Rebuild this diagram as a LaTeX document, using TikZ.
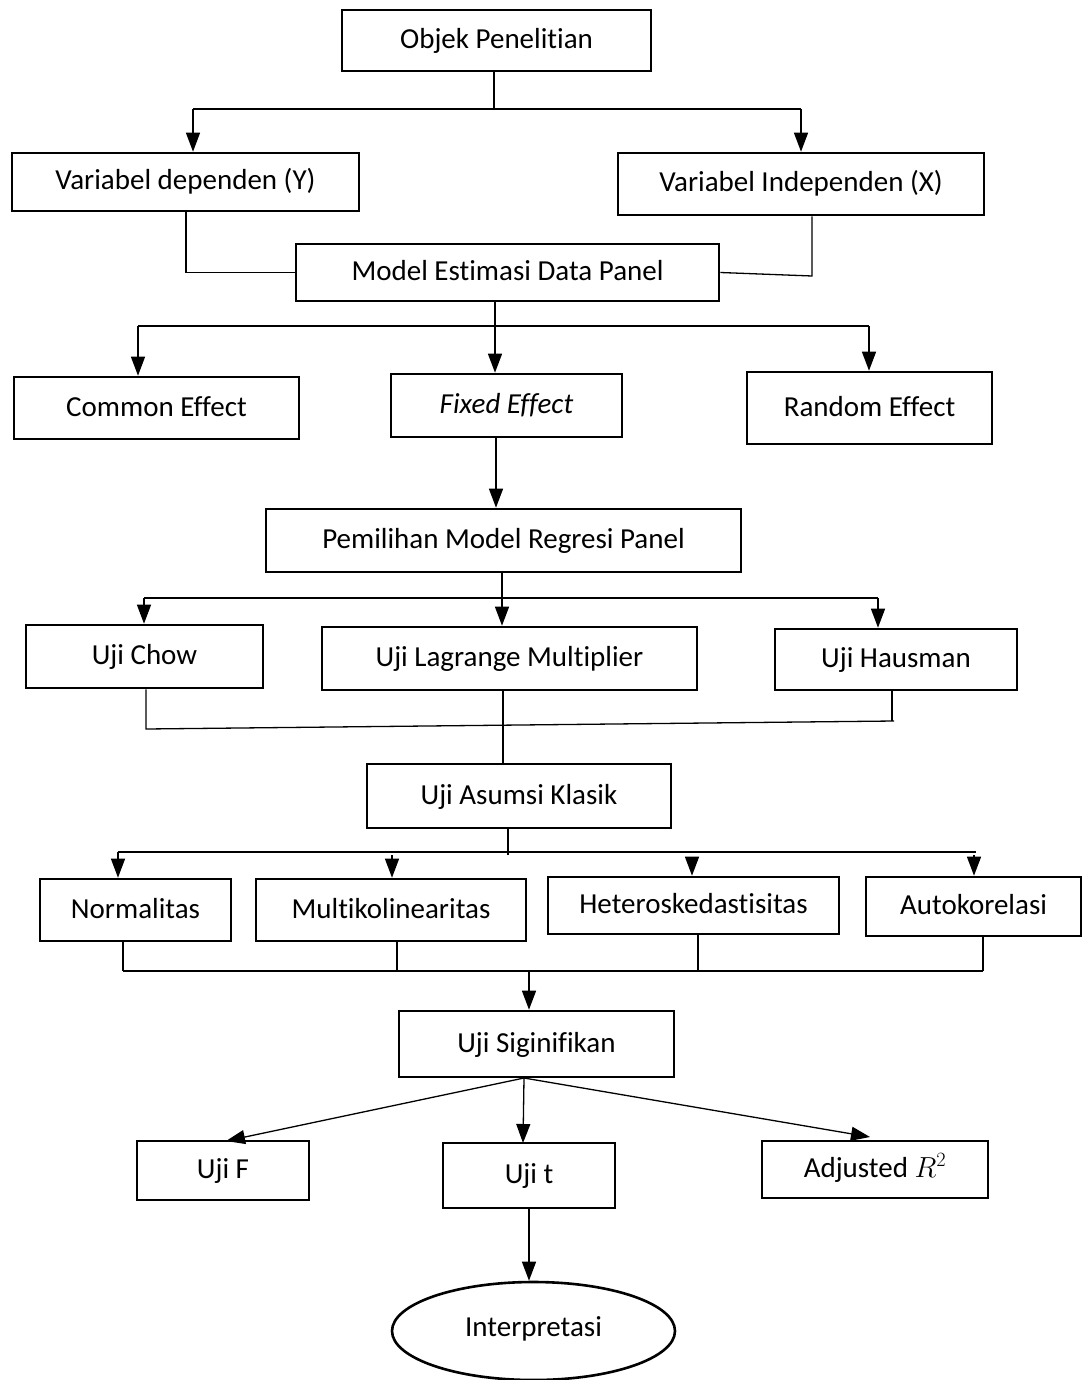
\RequirePackage{fix-cm}
\documentclass[tikz,border=0pt]{standalone}
\usepackage{fontspec}
\setmainfont{Carlito}[Ligatures=NoCommon]
\usetikzlibrary{arrows.meta,shapes.geometric}
\begin{document}
\begin{tikzpicture}[x=1pt,y=-1pt,
  box/.style={draw, line width=2.6pt, rectangle, inner sep=0pt,
    font=\fontsize{29}{35}\selectfont, text height=21pt, text depth=5pt},
  conn/.style={line width=1.3pt},
  arr/.style={line width=1.3pt, -{Triangle[length=19pt,width=14pt]}},
]
\useasboundingbox (0,0) rectangle (1084,1380);

% nodes
\node[box, minimum width=309pt, minimum height=61pt] (obj) at (496.5,40.5) {Objek Penelitian};
\node[box, minimum width=347pt, minimum height=58pt] (dep) at (185.5,182) {Variabel dependen (Y)};
\node[box, minimum width=366pt, minimum height=62pt] (ind) at (801,184) {Variabel Independen (X)};
\node[box, minimum width=423pt, minimum height=57pt] (model) at (507.5,272.5) {Model Estimasi Data Panel};
\node[box, minimum width=285pt, minimum height=62pt] (common) at (156.5,408) {Common Effect};
\node[box, minimum width=231pt, minimum height=63pt] (fixed) at (506.5,405.5) {\textit{Fixed Effect}};
\node[box, minimum width=245pt, minimum height=72pt] (random) at (869.5,408) {Random Effect};
\node[box, minimum width=475pt, minimum height=63pt] (pilih) at (503.5,540.5) {Pemilihan Model Regresi Panel};
\node[box, minimum width=237pt, minimum height=63pt] (chow) at (144.5,656.5) {Uji Chow};
\node[box, minimum width=375pt, minimum height=63pt] (lagr) at (509.5,658.5) {Uji Lagrange Multiplier};
\node[box, minimum width=242pt, minimum height=61pt] (haus) at (896,659.5) {Uji Hausman};
\node[box, minimum width=304pt, minimum height=64pt] (asumsi) at (519,796) {Uji Asumsi Klasik};
\node[box, minimum width=191pt, minimum height=62pt] (norm) at (135.5,910) {Normalitas};
\node[box, minimum width=270pt, minimum height=62pt] (multi) at (391,910) {Multikolinearitas};
\node[box, minimum width=291pt, minimum height=57pt] (hetero) at (693.5,905.5) {Heteroskedastisitas};
\node[box, minimum width=215pt, minimum height=59pt] (auto) at (973.5,906.5) {Autokorelasi};
\node[box, minimum width=275pt, minimum height=66pt] (sig) at (536.5,1044) {Uji Siginifikan};
\node[box, minimum width=172pt, minimum height=59pt] (ujif) at (223,1170.5) {Uji F};
\node[box, minimum width=172pt, minimum height=65pt] (ujit) at (529,1175.5) {Uji t};
\node[box, minimum width=226pt, minimum height=57pt] (adj) at (875,1169.5) {Adjusted $R^{2}$};
\node[box, ellipse, minimum width=283pt, minimum height=98pt] (interp) at (533.5,1331) {\raisebox{3pt}{Interpretasi}};

% level 1
\coordinate (j1) at (494,109);
\coordinate (j1l) at (193,109);
\coordinate (j1r) at (801,109);
\draw[conn] (obj.south -| j1) -- (j1);
\draw[conn] (j1l) -- (j1r);
\draw[arr] (j1l) -- (j1l |- dep.north);
\draw[arr] (j1r) -- (j1r |- ind.north);

% level 2
\coordinate (d1) at (186,272.5);
\coordinate (i1) at (812,276);
\draw[conn] (d1 |- dep.south) -- (d1) -- (model.west);
\draw[conn] (i1 |- ind.south) -- (i1) -- (model.east);

% level 3
\coordinate (m1) at (495,326);
\coordinate (m1l) at (138,326);
\coordinate (m1r) at (869,326);
\draw[arr] (m1 |- model.south) -- (m1 |- fixed.north);
\draw[conn] (m1l) -- (m1r);
\draw[arr] (m1l) -- (m1l |- common.north);
\draw[arr] (m1r) -- (m1r |- random.north);

% level 4
\coordinate (f1) at (496,450);
\draw[arr] (f1 |- fixed.south) -- (f1 |- pilih.north);

% level 5
\coordinate (p1) at (502,598);
\coordinate (p1l) at (144,598);
\coordinate (p1r) at (878,598);
\draw[arr] (p1 |- pilih.south) -- (p1 |- lagr.north);
\draw[conn] (p1l) -- (p1r);
\draw[arr] (p1l) -- (p1l |- chow.north);
\draw[arr] (p1r) -- (p1r |- haus.north);

% level 6
\coordinate (c1) at (146,729);
\coordinate (h1) at (892,721);
\coordinate (h2) at (894,721);
\coordinate (l1) at (503,740);
\draw[conn] (c1 |- chow.south) -- (c1) -- (h2);
\draw[conn] (h1 |- haus.south) -- (h1);
\draw[conn] (l1 |- lagr.south) -- (l1 |- asumsi.north);

% level 7
\coordinate (a1) at (508,855);
\coordinate (a1l) at (118,852);
\coordinate (a1r) at (976,852);
\coordinate (ak1) at (392,855);
\coordinate (ak2) at (692,857);
\coordinate (ak3) at (974,855);
\draw[conn] (a1 |- asumsi.south) -- (a1);
\draw[conn] (a1l) -- (a1r);
\draw[arr] (a1l) -- (a1l |- norm.north);
\draw[arr] (ak1) -- (ak1 |- multi.north);
\draw[arr] (ak2) -- (ak2 |- hetero.north);
\draw[arr] (ak3) -- (ak3 |- auto.north);

% level 8
\coordinate (b1) at (123,971);
\coordinate (b2) at (397,971);
\coordinate (b3) at (698,972);
\coordinate (b4) at (983,971);
\coordinate (bm) at (529,971);
\draw[conn] (b1 |- norm.south) -- (b1);
\draw[conn] (b2 |- multi.south) -- (b2);
\draw[conn] (b3 |- hetero.south) -- (b3);
\draw[conn] (b4 |- auto.south) -- (b4);
\draw[conn] (b1) -- (b4);
\draw[arr] (bm) -- (bm |- sig.north);

% level 9
\coordinate (s0) at (524,1078);
\coordinate (sf) at (226,1141);
\coordinate (st) at (523,1143);
\coordinate (sa) at (870,1137);
\draw[arr] (s0) -- (sf);
\draw[arr] (s0) -- (st);
\draw[arr] (s0) -- (sa);

% level 10
\coordinate (t1) at (529,1250);
\draw[arr] (t1 |- ujit.south) -- (t1 |- interp.north);
\end{tikzpicture}
\end{document}
